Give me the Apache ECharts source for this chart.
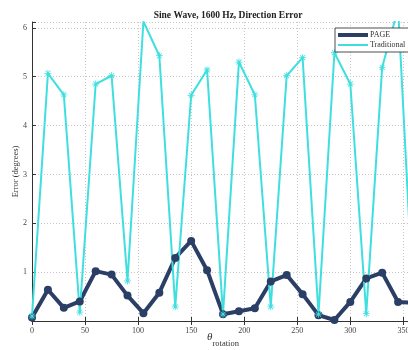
<!DOCTYPE html>
<html><head><meta charset="utf-8">
<script src="https://cdn.jsdelivr.net/npm/echarts@6/dist/echarts.min.js"></script>
<style>html,body{margin:0;padding:0;background:#fff}#c{width:408px;height:350px}</style>
</head><body><div id="c"></div>
<script>
const angles = [0,15,30,45,60,75,90,105,120,135,150,165,180,195,210,225,240,255,270,285,300,315,330,345,360];
const pageErr = [0.07,0.64,0.27,0.40,1.02,0.95,0.52,0.16,0.58,1.29,1.64,1.04,0.14,0.20,0.26,0.81,0.94,0.55,0.12,0.02,0.39,0.87,0.99,0.39,0.37];
const tradErr = [0.10,5.07,4.63,0.18,4.85,5.02,0.82,6.13,5.43,0.29,4.62,5.14,0.14,5.30,4.63,0.29,5.02,5.39,0.14,5.49,4.85,0.15,5.19,6.40,0.10];
const xTicks = [0,50,100,150,200,250,300,350];
const yTicks = [1,2,3,4,5,6];

const serif = '"Liberation Serif","DejaVu Serif",serif';
const navy = '#2b3f66';
const cyan = '#3fdfe0';
const ast = 'path://M-0.35,-3H0.35V3H-0.35Z M-3,-0.35H3V0.35H-3Z M-2.37,-1.87L-1.87,-2.37L2.37,1.87L1.87,2.37Z M1.87,-2.37L2.37,-1.87L-1.87,2.37L-2.37,1.87Z';
function legIcon(h){const a=(10-h)/2,b=a+h;return 'path://M0,'+a+'H30V'+b+'H0Z M0,0L0.01,0L0,0.01Z M30,10L29.99,10L30,9.99Z';}

const chart = echarts.init(document.getElementById('c'), null, {renderer:'canvas'});
chart.setOption({
  animation:false,
  backgroundColor:'#fff',
  title:{text:'Sine Wave, 1600 Hz, Direction Error', left:223, textAlign:'center', top:6,
    textStyle:{fontFamily:serif, fontSize:9.5, fontWeight:'bold', color:'#222'}},
  grid:{left:32, right:-6, top:22, bottom:29, containLabel:false, outerBoundsMode:'none'},
  legend:{orient:'vertical', left:335, top:28, itemWidth:30, itemHeight:10, itemGap:0,
    padding:[2,14,2,3], borderColor:'#222', borderWidth:0.8, backgroundColor:'#fff',
    textStyle:{fontFamily:serif, fontSize:8, color:'#333', padding:[0,0,0,-3]},
    data:[{name:'PAGE', icon:legIcon(4), itemStyle:{color:navy}},{name:'Traditional', icon:legIcon(2), itemStyle:{color:cyan}}]},
  xAxis:[{type:'value', min:0, max:360, interval:50,
    name:'{t|θ}{s|rotation}', nameLocation:'middle', nameGap:11, nameMoveOverlap:false,
    nameTextStyle:{rich:{t:{fontFamily:serif, fontStyle:'italic', fontSize:11, color:'#333', padding:[0,0,6,0]},
                         s:{fontFamily:serif, fontSize:8.5, color:'#333', padding:[0,0,-6,0]}}},
    axisLine:{onZero:false, lineStyle:{color:'#333', width:1}},
    axisTick:{inside:true, length:4, lineStyle:{color:'#333'}},
    axisLabel:{fontFamily:serif, fontSize:8, color:'#444', margin:6, formatter:v=>xTicks.includes(v)?String(v):''},
    splitLine:{show:true, lineStyle:{color:'#c8c8c8', type:[1,2], width:1}}},
   {type:'value', position:'top', min:0, max:360, interval:50,
    axisLine:{lineStyle:{color:'#333', width:1}},
    axisTick:{inside:true, length:4, lineStyle:{color:'#333'}},
    axisLabel:{show:false}, splitLine:{show:false}}],
  yAxis:{type:'value', min:0, max:6.12, interval:1,
    name:'Error (degrees)', nameLocation:'middle', nameGap:12, nameMoveOverlap:false,
    nameTextStyle:{fontFamily:serif, fontSize:8.5, color:'#333'},
    axisLine:{lineStyle:{color:'#333', width:1}},
    axisTick:{inside:true, length:4, lineStyle:{color:'#333'}},
    axisLabel:{fontFamily:serif, fontSize:8, color:'#444', margin:5, formatter:v=>yTicks.includes(v)?String(v):''},
    splitLine:{show:true, lineStyle:{color:'#c8c8c8', type:[1,2], width:1}}},
  series:[
    {name:'PAGE', type:'line', data:angles.map((a,i)=>[a,pageErr[i]]), symbol:'circle', symbolSize:8,
     lineStyle:{color:navy, width:4}, itemStyle:{color:navy}, clip:true},
    {name:'Traditional', type:'line', data:angles.map((a,i)=>[a,tradErr[i]]), symbol:ast, symbolSize:7,
     lineStyle:{color:cyan, width:2}, itemStyle:{color:cyan}, clip:true}
  ]
});
</script></body></html>
